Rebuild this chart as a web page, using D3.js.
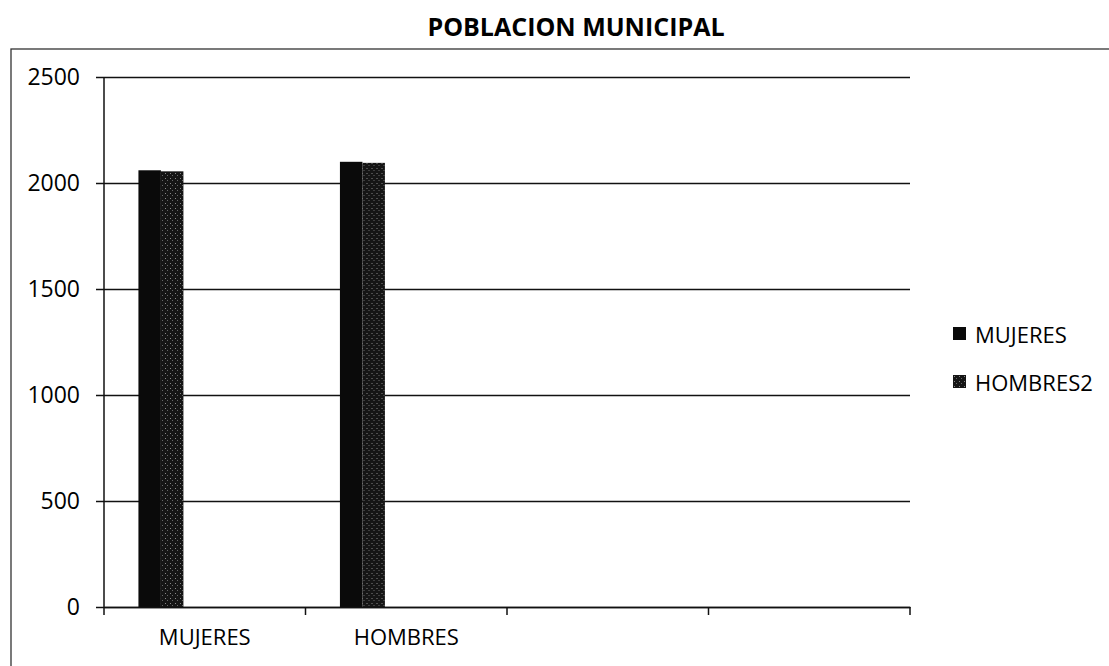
<!DOCTYPE html>
<html>
<head>
<meta charset="utf-8">
<script src="https://cdn.jsdelivr.net/npm/d3@7"></script>
<style>
  body { margin: 0; background: #fff; }
  svg { display: block; font-family: 'Open Sans', sans-serif; }
</style>
</head>
<body>
<svg id="chart" width="1109" height="666"></svg>
<script>
// chart data
const categories = ['MUJERES', 'HOMBRES', '', '']
const seriesNames = ['MUJERES', 'HOMBRES2']
const mujeres = [2060, 2100, null, null]
const hombres2 = [2055, 2095, null, null]
const yTicks = [0, 500, 1000, 1500, 2000, 2500]

const margin = { top: 77, right: 199, bottom: 59, left: 104 }
const width = 1109, height = 666
const chartW = width - margin.left - margin.right
const chartH = height - margin.top - margin.bottom

const svg = d3.select('#chart')

// dithered fill like the scanned grey series
const defs = svg.append('defs')
const pat = defs.append('pattern')
  .attr('id', 'grey')
  .attr('width', 5).attr('height', 5)
  .attr('patternUnits', 'userSpaceOnUse')
pat.append('rect').attr('width', 5).attr('height', 5).attr('fill', '#151515')
pat.append('rect').attr('x', 1).attr('y', 1).attr('width', 1).attr('height', 1).attr('fill', '#888')
pat.append('rect').attr('x', 3).attr('y', 3).attr('width', 1).attr('height', 1).attr('fill', '#666')

const colors = ['#0a0a0a', 'url(#grey)']

// outer frame (cut by the page edge right and bottom)
svg.append('rect')
  .attr('x', 11).attr('y', 49)
  .attr('width', 1200).attr('height', 700)
  .attr('fill', 'none')
  .attr('stroke', '#333')
  .attr('stroke-width', 1.3)

svg.append('text')
  .attr('x', 576).attr('y', 36)
  .attr('text-anchor', 'middle')
  .style('font-size', '25px')
  .style('font-weight', 'bold')
  .text('POBLACION MUNICIPAL')

const g = svg.append('g')
  .attr('transform', 'translate(' + margin.left + ',' + margin.top + ')')

const x0 = d3.scaleBand()
  .domain(categories.map((_, i) => i))
  .range([0, chartW])

const x1 = d3.scaleBand()
  .domain(seriesNames)
  .range([0, x0.bandwidth()])
  .paddingInner(0)
  .paddingOuter(3.48)
  .align(0.22)

const y = d3.scaleLinear()
  .domain([0, 2500])
  .range([chartH, 0])

// gridlines + y axis
const yAxis = g.append('g')
  .call(d3.axisLeft(y).tickValues(yTicks).tickFormat(d3.format('d')).tickSize(-chartW - 8).tickPadding(16))
  .attr('transform', 'translate(-8,0)')
yAxis.select('.domain').remove()
yAxis.selectAll('.tick line')
  .attr('stroke', '#111')
  .attr('stroke-width', 1.5)
  .attr('x1', 0)
  .attr('x2', chartW + 8)
yAxis.selectAll('.tick text')
  .attr('x', -16)
  .style('font-size', '23px')
  .style('font-family', 'Open Sans, sans-serif')
  .attr('fill', '#000')

g.append('line')
  .attr('x1', 0).attr('x2', 0)
  .attr('y1', 0).attr('y2', chartH)
  .attr('stroke', '#111')
  .attr('stroke-width', 1.5)

// bars
const values = [mujeres, hombres2]
const rows = categories.map((c, i) => ({ i, ys: values.map((v, s) => ({ s, v: v[i] })) }))

const areas = g.selectAll('.area')
  .data(rows)
  .enter().append('g')
  .attr('class', 'area')
  .attr('transform', d => 'translate(' + x0(d.i) + ',0)')

areas.selectAll('rect')
  .data(d => d.ys.filter(e => e.v != null))
  .enter().append('rect')
  .attr('x', d => x1(seriesNames[d.s]))
  .attr('y', d => y(d.v))
  .attr('width', x1.bandwidth())
  .attr('height', d => chartH - y(d.v))
  .attr('fill', d => colors[d.s])

// x axis
const xAxis = g.append('g')
  .attr('transform', 'translate(0,' + chartH + ')')
  .call(d3.axisBottom(x0).tickSize(0).tickPadding(22).tickFormat(i => categories[i]))
xAxis.select('.domain').attr('stroke', '#111').attr('stroke-width', 1.5)
xAxis.selectAll('.tick text')
  .style('font-size', '22px')
  .style('font-family', 'Open Sans, sans-serif')
  .attr('fill', '#000')

const bounds = categories.map((_, i) => x0(i)).concat([chartW])
xAxis.selectAll('.sep')
  .data(bounds)
  .enter().append('line')
  .attr('class', 'sep')
  .attr('x1', d => d).attr('x2', d => d)
  .attr('y1', 0).attr('y2', 8)
  .attr('stroke', '#111')
  .attr('stroke-width', 1.5)

// legend
const legend = svg.append('g')
  .attr('transform', 'translate(953,327)')
const items = legend.selectAll('g')
  .data(seriesNames)
  .enter().append('g')
  .attr('transform', (d, i) => 'translate(0,' + i * 48 + ')')
items.append('rect')
  .attr('width', 13).attr('height', 13)
  .attr('fill', (d, i) => colors[i])
items.append('text')
  .attr('x', 22).attr('y', 16)
  .style('font-size', '22px')
  .text(d => d)
</script>
</body>
</html>
